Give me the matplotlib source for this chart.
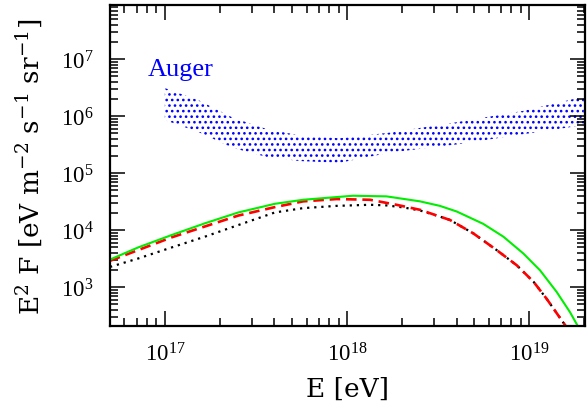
import matplotlib.pyplot as plt

plt.rcParams['font.family'] = ['Liberation Serif', 'DejaVu Serif']
plt.rcParams['mathtext.fontset'] = 'dejavuserif'
plt.rcParams['hatch.linewidth'] = 1.1

# Auger band (energy in eV, E^2 F in eV m^-2 s^-1 sr^-1)
auger_e = [1.0e17, 1.55e17, 2.37e17, 3.63e17, 5.5e17, 9.1e17, 1.74e18, 3.98e18, 9.3e18, 2.0e19]
auger_hi = [3.09e6, 1.86e6, 9.3e5, 5.9e5, 4.57e5, 4.07e5, 5.13e5, 7.76e5, 1.23e6, 2.19e6]
auger_lo = [8.5e5, 5.13e5, 2.75e5, 1.91e5, 1.62e5, 1.51e5, 2.29e5, 3.16e5, 4.79e5, 6.92e5]

# model curves
green_e = [5.0e16, 7.13e16, 1.09e17, 1.66e17, 2.53e17, 4.02e17, 5.75e17, 1.08e18, 1.65e18,
           2.52e18, 3.24e18, 4.01e18, 5.61e18, 7.23e18, 9.31e18, 1.15e19, 1.42e19, 1.68e19, 1.87e19]
green_f = [3.03e3, 4.94e3, 8.16e3, 1.31e4, 2.03e4, 2.88e4, 3.39e4, 3.99e4, 3.89e4,
           3.18e4, 2.65e4, 2.11e4, 1.28e4, 7.64e3, 3.87e3, 1.96e3, 8.16e2, 3.61e2, 1.96e2]

red_e = [5.0e16, 1.09e17, 2.53e17, 4.02e17, 5.75e17, 8.77e17, 1.34e18, 1.87e18, 2.52e18,
         3.24e18, 3.68e18, 4.94e18, 6.65e18, 8.56e18, 1.06e19, 1.25e19, 1.45e19, 1.61e19]
red_f = [2.88e3, 7.43e3, 1.79e4, 2.52e4, 3.18e4, 3.49e4, 3.39e4, 2.77e4, 2.26e4,
         1.72e4, 1.50e4, 8.74e3, 4.43e3, 2.41e3, 1.23e3, 6.21e2, 3.15e2, 1.96e2]

black_e = [5.0e16, 7.13e16, 1.09e17, 1.66e17, 2.53e17, 4.02e17, 5.75e17, 8.77e17, 1.34e18,
           1.65e18, 2.04e18, 2.52e18, 3.24e18, 3.68e18, 4.94e18, 6.65e18, 8.56e18, 1.06e19,
           1.25e19, 1.45e19, 1.61e19]
black_f = [2.25e3, 3.16e3, 4.94e3, 7.64e3, 1.22e4, 2.03e4, 2.42e4, 2.65e4, 2.77e4,
           2.70e4, 2.49e4, 2.20e4, 1.72e4, 1.50e4, 8.74e3, 4.43e3, 2.41e3, 1.23e3,
           6.21e2, 3.15e2, 1.96e2]

fig = plt.figure(figsize=(5.88, 4.02), dpi=100)
ax = fig.add_axes([110 / 588, 75 / 402, 475 / 588, 321 / 402])

ax.fill_between(auger_e, auger_lo, auger_hi, facecolor='none', edgecolor='blue',
                linewidth=0, hatch='...')
ax.text(8.07e16, 5.2e6, 'Auger', color='blue', fontsize=19, ha='left', va='baseline')

ax.plot(black_e, black_f, color='black', linestyle=(0, (1, 2.2)), linewidth=1.6)
ax.plot(red_e, red_f, color='red', linestyle=(0, (4, 2.2)), linewidth=1.9)
ax.plot(green_e, green_f, color='#00ee00', linewidth=1.5)

ax.set_xscale('log')
ax.set_yscale('log')
ax.set_xlim(5e16, 2.03e19)
ax.set_ylim(2.07e2, 8.85e7)

ax.tick_params(which='both', direction='in', top=True, right=True, width=1.1)
ax.tick_params(which='major', length=11, labelsize=16.5)
ax.tick_params(which='minor', length=5.5)
ax.tick_params(axis='x', pad=12)
ax.tick_params(axis='y', pad=12)
for sp in ax.spines.values():
    sp.set_linewidth(1.6)

ax.set_xlabel('E [eV]', fontsize=19, family='DejaVu Serif', labelpad=7)
ax.set_ylabel(r'E$^2$ F [eV m$^{-2}$ s$^{-1}$ sr$^{-1}$]', fontsize=19,
              family='DejaVu Serif', labelpad=11)

plt.savefig('out.png', dpi=100)
